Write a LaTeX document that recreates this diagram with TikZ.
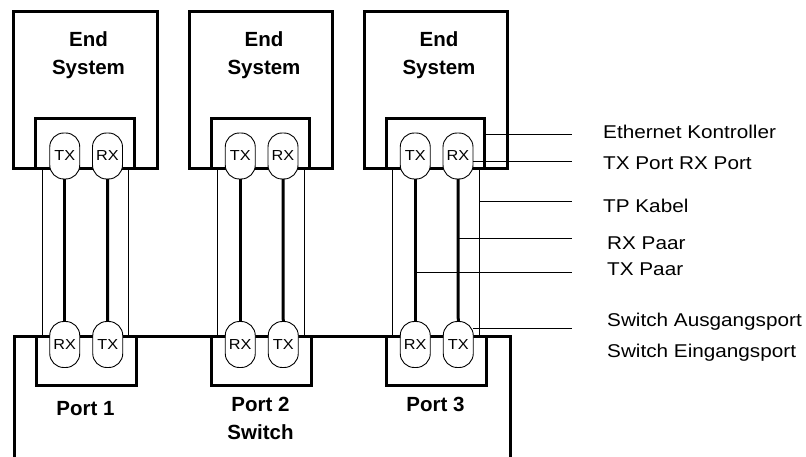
\documentclass[tikz,border=0pt]{standalone}
\usepackage{fontspec}
\setmainfont{Liberation Sans}
\newfontfamily\lblfont[FakeStretch=1.12]{Liberation Sans}
\begin{document}
\begin{tikzpicture}[x=1pt,y=-1pt,
  box/.style={draw, line width=3pt, inner sep=0pt, outer sep=0pt, anchor=north west},
  oval/.style={draw, fill=white, line width=0.9pt, rounded corners=14pt, minimum width=30pt, minimum height=46pt, inner sep=0pt, outer sep=0pt, font=\lblfont\fontsize{14.5}{15}\selectfont},
  pair/.style={line width=3pt},
  cable/.style={line width=1pt},
  leader/.style={line width=1pt},
  title/.style={font=\bfseries\fontsize{20.5}{28}\selectfont, align=center, anchor=base, inner sep=0pt},
  lbl/.style={font=\lblfont\fontsize{18.5}{18.5}\selectfont, anchor=base west, inner sep=0pt}
]
\useasboundingbox (0,0) rectangle (806,457);
\fill[white] (0,0) rectangle (806,457);

% switch
\node[box, minimum width=495.5pt, minimum height=122pt] (sw) at (14.5,336) {};

\foreach \i/\dx in {1/0, 2/175.5, 3/350.5} {
  % end system and ethernet controller
  \node[box, minimum width=143.5pt, minimum height=157pt] (es\i) at (13.5+\dx,11.5) {};
  \node[box, minimum width=98.5pt, minimum height=49.5pt] (ec\i) at (35.5+\dx,119) {};
  % switch port
  \node[box, minimum width=100pt, minimum height=49pt] (pt\i) at (36+\dx,336) {};
  % TP cable
  \coordinate (cla\i) at (42+\dx,168.5);
  \coordinate (clb\i) at (42+\dx,336);
  \coordinate (cra\i) at (128.5+\dx,168.5);
  \coordinate (crb\i) at (128.5+\dx,336);
  \draw[cable] (cla\i) -- (clb\i);
  \draw[cable] (cra\i) -- (crb\i);
  % ovals
  \node[oval] (ttx\i) at (64.75+\dx,156) {TX};
  \node[oval] (trx\i) at (107.5+\dx,156) {RX};
  \node[oval] (brx\i) at (64.75+\dx,344.5) {RX};
  \node[oval] (btx\i) at (107.75+\dx,344.5) {TX};
  % pairs
  \draw[pair] (ttx\i.south) -- (brx\i.north);
  \draw[pair] (trx\i.south) -- (btx\i.north);
  % title
  \node[title] (est\i) at (88.5+\dx,75) {End\\System};
}

\node[title] (p1) at (85.5,415) {Port 1};
\node[title] (p2) at (260.5,439) {Port 2\\Switch};
\node[title] (p3) at (435.5,411) {Port 3};

% leader lines
\coordinate (e1) at (572,135);
\coordinate (e2) at (572,162);
\coordinate (e3) at (572,202);
\coordinate (e4) at (572,239);
\coordinate (e5) at (572,272);
\coordinate (e6) at (572,328);
\draw[leader] (ec3.east |- e1) -- (e1);
\draw[leader] (trx3.east |- e2) -- (e2);
\draw[leader] (cra3 |- e3) -- (e3);
\draw[leader] (trx3.south |- e4) -- (e4);
\draw[leader] (ttx3.south |- e5) -- (e5);
\draw[leader] (btx3.east |- e6) -- (e6);

\node[lbl] (l1) at (603,139) {Ethernet Kontroller};
\node[lbl] (l2) at (603,170) {TX Port RX Port};
\node[lbl] (l3) at (603,213) {TP Kabel};
\node[lbl] (l4) at (607,250) {RX Paar};
\node[lbl] (l5) at (607,276) {TX Paar};
\node[lbl] (l6) at (607,326) {Switch Ausgangsport};
\node[lbl] (l7) at (607,357) {Switch Eingangsport};
\end{tikzpicture}
\end{document}
